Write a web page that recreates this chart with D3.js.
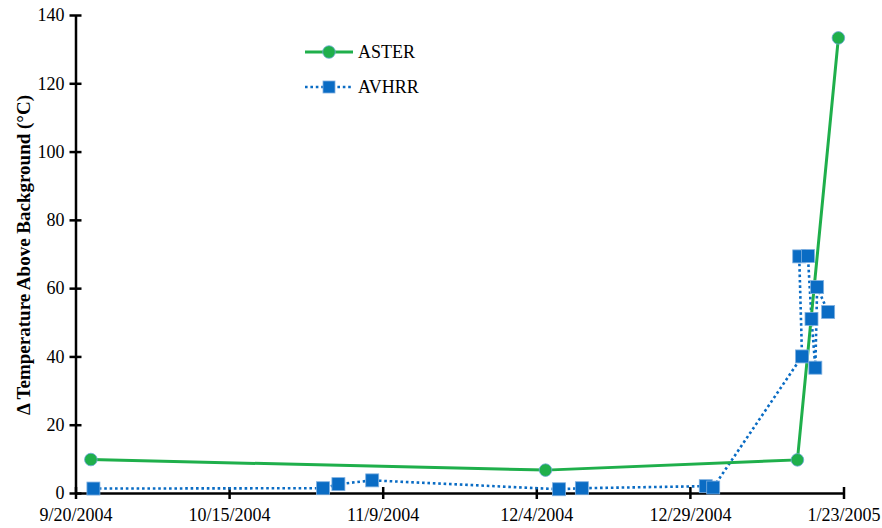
<!DOCTYPE html>
<html>
<head>
<meta charset="utf-8">
<script src="https://cdn.jsdelivr.net/npm/d3@7"></script>
<style>
  html, body { margin: 0; padding: 0; background: #fff; }
  svg { display: block; font-family: "Liberation Serif", "Times New Roman", serif; }
</style>
</head>
<body>
<svg id="chart" width="882" height="528"></svg>
<script>
// ASTER observations (date/time UTC, °C above background)
const asterDates = ["2004-09-22 12:00", "2004-12-05 12:00", "2005-01-15 12:00", "2005-01-22 04:00"];
const asterValues = [9.8, 6.7, 9.7, 133.3];

// AVHRR observations, in plotting order
const avhrrDates = [
  "2004-09-22 22:00", "2004-10-30 07:00", "2004-11-01 19:00", "2004-11-07 07:00",
  "2004-12-07 17:00", "2004-12-11 10:00", "2004-12-31 14:00", "2005-01-01 19:00",
  "2005-01-16 06:00", "2005-01-15 19:00", "2005-01-17 05:00", "2005-01-17 19:00",
  "2005-01-18 10:00", "2005-01-18 17:00", "2005-01-20 12:00"
];
const avhrrValues = [1.3, 1.4, 2.6, 3.7, 1.1, 1.4, 2.0, 1.6, 40.0, 69.3, 69.4, 51.0, 36.7, 60.3, 53.0];

// Axis ticks
const xTickDates = ["2004-09-20", "2004-10-15", "2004-11-09", "2004-12-04", "2004-12-29", "2005-01-23"];
const xTickLabels = ["9/20/2004", "10/15/2004", "11/9/2004", "12/4/2004", "12/29/2004", "1/23/2005"];
const yTicks = [0, 20, 40, 60, 80, 100, 120, 140];

const seriesNames = ["ASTER", "AVHRR"];
const yTitle = "\u0394 Temperature Above Background (\u00B0C)";

const parseDT = d3.utcParse("%Y-%m-%d %H:%M");
const parseD = d3.utcParse("%Y-%m-%d");

const GREEN = "#1FAF4B";
const BLUE = "#0A6CC4";

const svg = d3.select("#chart");
const margin = { left: 75.5, right: 38.5, top: 15, bottom: 35 };
const W = 882, H = 528;

const x = d3.scaleUtc()
  .domain([parseD(xTickDates[0]), parseD(xTickDates[xTickDates.length - 1])])
  .range([margin.left, W - margin.right]);
const y = d3.scaleLinear().domain([0, 140]).range([H - margin.bottom, margin.top]);

const aster = asterDates.map((d, i) => ({ t: parseDT(d), v: asterValues[i] }));
const avhrr = avhrrDates.map((d, i) => ({ t: parseDT(d), v: avhrrValues[i] }));

// Y axis
const yAxis = d3.axisLeft(y).tickValues(yTicks).tickSizeInner(6).tickSizeOuter(0).tickPadding(6);
const gy = svg.append("g").attr("transform", `translate(${margin.left},0)`).call(yAxis);
gy.select(".domain").attr("stroke", "#000").attr("stroke-width", 2.5);
gy.selectAll(".tick line").attr("stroke", "#000").attr("stroke-width", 2.5).attr("x1", 6);
gy.selectAll(".tick text").attr("font-size", 18).attr("font-family", "Liberation Serif").attr("fill", "#000").attr("x", -11);

// X axis
const xAxis = d3.axisBottom(x)
  .tickValues(xTickDates.map(parseD))
  .tickFormat((d, i) => xTickLabels[i])
  .tickSizeInner(6).tickSizeOuter(0).tickPadding(9);
const gx = svg.append("g").attr("transform", `translate(0,${y(0)})`).call(xAxis);
gx.select(".domain").attr("stroke", "#000").attr("stroke-width", 2.5);
gx.selectAll(".tick line").attr("stroke", "#000").attr("stroke-width", 2.5).attr("y1", -6);
gx.selectAll(".tick text").attr("font-size", 18).attr("font-family", "Liberation Serif").attr("fill", "#000");

// Y axis title
svg.append("text")
  .attr("transform", "translate(23,255) rotate(-90)")
  .attr("text-anchor", "middle")
  .attr("dominant-baseline", "central")
  .attr("font-size", 19).attr("font-weight", "bold")
  .attr("font-family", "Liberation Serif")
  .text(yTitle);

const line = d3.line().x(d => x(d.t)).y(d => y(d.v));

// AVHRR dotted line
svg.append("path").datum(avhrr)
  .attr("d", line).attr("fill", "none")
  .attr("stroke", BLUE).attr("stroke-width", 2.6)
  .attr("stroke-dasharray", "2.6 2.8");

// ASTER solid line
svg.append("path").datum(aster)
  .attr("d", line).attr("fill", "none")
  .attr("stroke", GREEN).attr("stroke-width", 3);

// Markers
const sq = 13;
svg.append("g").selectAll("rect").data(avhrr).join("rect")
  .attr("x", d => x(d.t) - sq / 2).attr("y", d => y(d.v) - sq / 2)
  .attr("width", sq).attr("height", sq)
  .attr("fill", BLUE).attr("stroke", "#7fb0e0").attr("stroke-width", 0.8);

svg.append("g").selectAll("circle").data(aster).join("circle")
  .attr("cx", d => x(d.t)).attr("cy", d => y(d.v)).attr("r", 6.3)
  .attr("fill", GREEN).attr("stroke", "#6fa8dc").attr("stroke-width", 0.8);

// Legend
const lg = svg.append("g").attr("transform", "translate(305,0)");
lg.append("line").attr("x1", 0).attr("x2", 48).attr("y1", 52).attr("y2", 52)
  .attr("stroke", GREEN).attr("stroke-width", 3);
lg.append("circle").attr("cx", 24).attr("cy", 52).attr("r", 6.3)
  .attr("fill", GREEN).attr("stroke", "#6fa8dc").attr("stroke-width", 0.8);
lg.append("text").attr("x", 53).attr("y", 58).attr("font-size", 18).text(seriesNames[0]);

lg.append("line").attr("x1", 0).attr("x2", 48).attr("y1", 87).attr("y2", 87)
  .attr("stroke", BLUE).attr("stroke-width", 2.6).attr("stroke-dasharray", "2.6 2.8");
lg.append("rect").attr("x", 24 - 6).attr("y", 87 - 6).attr("width", 12).attr("height", 12)
  .attr("fill", BLUE).attr("stroke", "#7fb0e0").attr("stroke-width", 0.8);
lg.append("text").attr("x", 53).attr("y", 93).attr("font-size", 18).text(seriesNames[1]);
</script>
</body>
</html>
